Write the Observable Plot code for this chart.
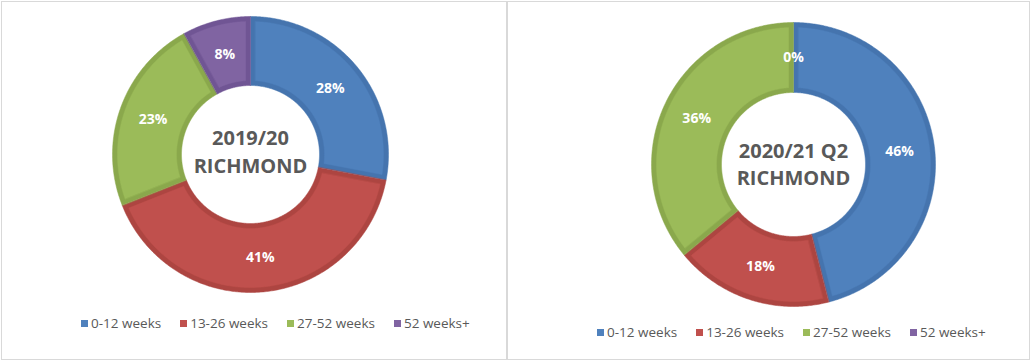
<!DOCTYPE html>
<html>
<head>
<meta charset="utf-8">
<script src="https://cdn.jsdelivr.net/npm/d3@7"></script>
<script src="https://cdn.jsdelivr.net/npm/@observablehq/plot@0.6"></script>
<style>
  html, body { margin: 0; padding: 0; background: #fff; }
  #page { position: relative; width: 1033px; height: 364px; overflow: hidden; font-family: "Open Sans", sans-serif; }
  .panel { position: absolute; box-sizing: border-box; border: 1px solid #d9d9d9; background: #fff; }
  .chart { position: absolute; }
  .legend { position: absolute; display: flex; align-items: center; gap: 19px; font-size: 13.5px; color: #595959; white-space: nowrap; }
  .legend .item { display: flex; align-items: center; }
  .legend .sw { width: 7px; height: 7px; margin-right: 3px; }
</style>
</head>
<body>
<div id="page"></div>
<script>
const categories = ["0-12 weeks", "13-26 weeks", "27-52 weeks", "52 weeks+"];
const values2019 = [28, 41, 23, 8];
const values2021 = [46, 18, 36, 0];
const titleLines2019 = ["2019/20", "RICHMOND"];
const titleLines2021 = ["2020/21 Q2", "RICHMOND"];

const colors = ["#4F81BD", "#C0504D", "#9BBB59", "#8064A2"];
const darks = ["#4574ae", "#ad4541", "#8aa84c", "#705594"];

const page = document.getElementById("page");

function panel(left, top, w, h) {
  const d = document.createElement("div");
  d.className = "panel";
  Object.assign(d.style, {left: left + "px", top: top + "px", width: w + "px", height: h + "px"});
  page.appendChild(d);
}

// ring polygon for one slice, optionally inset by `inset` pixels
function ring(cat, a0, a1, R, r, inset) {
  const Ro = R - inset, ri = r + inset;
  const ao0 = a0 + inset / Ro, ao1 = a1 - inset / Ro;
  const ai0 = a0 + inset / ri, ai1 = a1 - inset / ri;
  const out = [];
  if (ao1 <= ao0 || ai1 <= ai0) return out;
  const n = Math.max(2, Math.ceil((a1 - a0) / 0.01));
  for (let i = 0; i <= n; i++) {
    const a = ao0 + (ao1 - ao0) * i / n;
    out.push({cat, x: Ro * Math.sin(a), y: Ro * Math.cos(a)});
  }
  for (let i = n; i >= 0; i--) {
    const a = ai0 + (ai1 - ai0) * i / n;
    out.push({cat, x: ri * Math.sin(a), y: ri * Math.cos(a)});
  }
  return out;
}

function donut({values, lines, offsets, left, top, width, height, cx, cy, R, r}) {
  const rows = categories.map((c, i) => ({cat: c, value: values[i]}));
  const arcs = d3.pie().sort(null).value(d => d.value)(rows);
  const bevel = 5;
  const outerPts = [], innerPts = [];
  arcs.forEach(p => {
    if (p.endAngle - p.startAngle <= 0) return;
    outerPts.push(...ring(p.data.cat, p.startAngle, p.endAngle, R, r, 0));
    innerPts.push(...ring(p.data.cat, p.startAngle, p.endAngle, R, r, bevel));
  });
  const rm = (R + r) / 2;
  const labels = arcs.map(p => {
    const a = (p.startAngle + p.endAngle) / 2;
    return {x: rm * Math.sin(a), y: rm * Math.cos(a), text: p.data.value + "%"};
  });
  const svg = Plot.plot({
    width, height, margin: 0,
    x: {domain: [-cx, width - cx], axis: null},
    y: {domain: [cy - height, cy], axis: null},
    color: {domain: categories, range: colors},
    style: {background: "transparent", overflow: "visible"},
    marks: [
      ...categories.map((c, i) => Plot.line(outerPts.filter(d => d.cat === c), {
        x: "x", y: "y", fill: darks[i], stroke: darks[i], strokeWidth: 0.5, curve: "linear-closed"
      })),
      ...categories.map((c, i) => Plot.line(innerPts.filter(d => d.cat === c), {
        x: "x", y: "y", fill: "cat", stroke: "cat", strokeWidth: 0.5, curve: "linear-closed"
      })),
      Plot.text(labels, {
        x: "x", y: "y", text: "text", fill: "white", fontSize: 14, fontWeight: "bold",
        fontFamily: "Open Sans"
      }),
      Plot.text([lines[0]], {
        x: () => 0, y: () => 0, text: d => d, dy: offsets[0], fill: "#595959", fontSize: 20, fontWeight: "bold",
        fontFamily: "Open Sans", textAnchor: "middle", style: "letter-spacing:2.3px"
      }),
      Plot.text([lines[1]], {
        x: () => 0, y: () => 0, text: d => d, dy: offsets[1], fill: "#595959", fontSize: 20, fontWeight: "bold",
        fontFamily: "Open Sans", textAnchor: "middle", style: "letter-spacing:1px"
      })
    ]
  });
  svg.classList.add("chart");
  svg.style.left = left + "px";
  svg.style.top = top + "px";
  page.appendChild(svg);
}

function legend(left, cyText) {
  const d = document.createElement("div");
  d.className = "legend";
  d.style.left = left + "px";
  d.style.top = (cyText - 9) + "px";
  d.style.height = "18px";
  categories.forEach((c, i) => {
    const it = document.createElement("div");
    it.className = "item";
    const sw = document.createElement("div");
    sw.className = "sw";
    sw.style.background = colors[i];
    it.appendChild(sw);
    const t = document.createElement("span");
    t.textContent = c;
    it.appendChild(t);
    d.appendChild(it);
  });
  page.appendChild(d);
}

panel(1, 1, 506, 359);
panel(507, 1, 523, 359);

donut({values: values2019, lines: titleLines2019, offsets: [-15.5, 12.5], left: 0, top: 0, width: 506, height: 300, cx: 250, cy: 154, R: 138, r: 69});
donut({values: values2021, lines: titleLines2021, offsets: [-13, 14], left: 507, top: 0, width: 523, height: 320, cx: 286, cy: 164, R: 142, r: 72});

legend(81, 323);
legend(597, 332);
</script>
</body>
</html>
